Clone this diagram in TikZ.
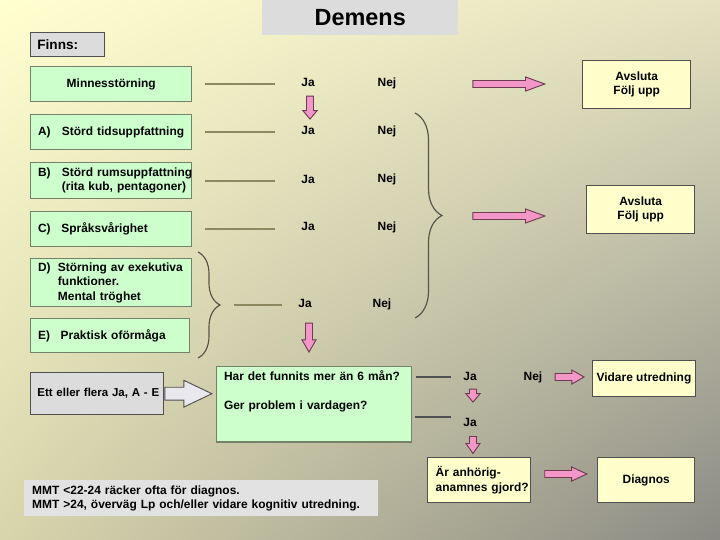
\documentclass[tikz,border=0pt]{standalone}
\usepackage{fontspec}
\setmainfont{Liberation Sans}
\definecolor{bgA}{RGB}{255,255,208}
\definecolor{bgB}{RGB}{228,226,192}
\definecolor{bgC}{RGB}{216,213,172}
\definecolor{bgD}{RGB}{138,138,132}
\definecolor{boxgreen}{RGB}{204,255,204}
\definecolor{greenline}{RGB}{115,130,105}
\definecolor{boxyellow}{RGB}{255,255,204}
\definecolor{darkline}{RGB}{80,80,80}
\definecolor{boxgray}{RGB}{220,220,220}
\definecolor{mmtgray}{RGB}{226,226,226}
\definecolor{linkcol}{RGB}{140,136,95}
\definecolor{arrowpink}{RGB}{243,150,200}
\definecolor{arrowline}{RGB}{110,60,80}
\definecolor{arrowgray}{RGB}{232,232,238}
\definecolor{bracecol}{RGB}{85,85,75}
\usetikzlibrary{shapes.arrows, decorations.pathreplacing, shadings, positioning}

\begin{document}
\begin{tikzpicture}[x=0.03cm, y=-0.03cm,
  font=\fontsize{10.2}{12.3}\selectfont\bfseries,
  greenbox/.style={draw=greenline, fill=boxgreen, line width=1.2pt,
    anchor=north west, inner xsep=0.22cm, minimum width=4.83cm,
    text width=4.39cm, align=left},
  yellowbox/.style={draw=darkline, fill=boxyellow, line width=1.2pt,
    anchor=north west, align=center},
  graybox/.style={draw=darkline, fill=boxgray, line width=1.2pt,
    anchor=north west, inner xsep=0.2cm, align=left},
  answer/.style={inner sep=0pt, text height=7.5pt, text depth=2.2pt},
  link/.style={linkcol, line width=1.5pt},
  pinkarr/.style={single arrow, draw=arrowline, fill=arrowpink,
    line width=0.8pt, inner xsep=0pt, inner ysep=2.6pt,
    single arrow head extend=3pt, single arrow tip angle=40},
  grayarr/.style={single arrow, draw=darkline, fill=arrowgray,
    line width=0.8pt, inner xsep=0pt, inner ysep=5.1pt,
    single arrow head extend=5.9pt, single arrow tip angle=51},
  curly/.style={bracecol, line width=1pt, decorate}]

  % Background
  \shade[upper left=bgA, upper right=bgB, lower left=bgC, lower right=bgD]
    (0,0) rectangle (720,540);

  % Title
  \node[fill=boxgray, anchor=north west, minimum width=5.88cm,
    minimum height=1.05cm, font=\fontsize{20}{24}\selectfont\bfseries]
    (title) at (262,0) {Demens};

  \node[graybox, minimum width=2.22cm, minimum height=0.72cm,
    text width=1.82cm, font=\fontsize{11.6}{13}\selectfont\bfseries]
    (finns) at (30,32) {Finns:};

  % Symptom boxes
  \node[greenbox, minimum height=1.05cm, align=center] (minn) at (30,66)
    {Minnesst\"orning};
  \node[greenbox, minimum height=1.05cm] (stA) at (30,114)
    {\mbox{A)\hspace{0.95em}St\"ord tidsuppfattning}};
  \node[greenbox, minimum height=1.08cm] (stB) at (30,162)
    {\mbox{B)\hspace{0.95em}St\"ord rumsuppfattning}\\\mbox{\hspace{2em}(rita kub, pentagoner)}};
  \node[greenbox, minimum height=1.05cm] (stC) at (30,211)
    {\mbox{C)\hspace{0.9em}Spr\aa ksv\aa righet}};
  \node[greenbox, minimum height=1.44cm] (stD) at (30,258)
    {\mbox{D)\hspace{0.6em}St\"orning av exekutiva}\\\mbox{\hspace{1.67em}funktioner.}\\\mbox{\hspace{1.67em}Mental tr\"oghet}};
  \node[greenbox, minimum width=4.77cm, text width=4.33cm,
    minimum height=1.02cm] (stE) at (30,318)
    {\mbox{E)\hspace{0.9em}Praktisk of\"orm\aa ga}};

  % Answers
  \node[answer] (ja0) at (308,83) {Ja};
  \node[answer] (nej0) at (387,83) {Nej};
  \node[answer] (ja1) at (308,131) {Ja};
  \node[answer] (nej1) at (387,131) {Nej};
  \node[answer] (ja2) at (308,180) {Ja};
  \node[answer] (nej2) at (387,179) {Nej};
  \node[answer] (ja3) at (308,227) {Ja};
  \node[answer] (nej3) at (387,227) {Nej};
  \node[answer] (ja4) at (305,304) {Ja};
  \node[answer] (nej4) at (382,304) {Nej};

  \foreach \b/\j in {minn/ja0, stA/ja1, stB/ja2, stC/ja3}
    \draw[link, shorten <=0.39cm, shorten >=0.78cm] (\b.east) -- (\b.east -| \j.west);

  % Braces
  \draw[curly, decoration={brace, amplitude=0.81cm}] (415,113) -- (415,318);
  \draw[curly, decoration={brace, amplitude=0.66cm}] (198,252) -- (198,358);
  \coordinate (deTip) at (220,305);
  \draw[link, shorten <=0.42cm, shorten >=0.48cm] (deTip) -- (deTip -| ja4.west);

  % Follow-up boxes
  \node[yellowbox, minimum width=3.24cm, minimum height=1.44cm] (avsA)
    at (582,60) {Avsluta\\F\"olj upp};
  \node[yellowbox, minimum width=3.24cm, minimum height=1.44cm] (avsB)
    at (586,185) {Avsluta\\F\"olj upp};

  \node[pinkarr, minimum height=2.16cm] (goA) at (504,84) {};
  \node[pinkarr, minimum height=2.16cm] (goB) at (504,216) {};
  \node[pinkarr, rotate=-90, minimum height=0.69cm,
    single arrow tip angle=80] (downA) at (310,105.5) {};
  \node[pinkarr, rotate=-90, minimum height=0.87cm,
    single arrow tip angle=60] (downB) at (309,334.5) {};

  % Lower part
  \node[graybox, minimum width=3.99cm, minimum height=1.26cm,
    text width=3.59cm, font=\fontsize{9.8}{12}\selectfont\bfseries]
    (ett) at (30,372) {\mbox{Ett eller flera Ja, A - E}};
  \node[greenbox, minimum width=5.85cm, text width=5.41cm,
    minimum height=2.04cm] (har) at (216,366)
    {Har det funnits mer \"an 6 m\aa n?\\[12.3pt]Ger problem i vardagen?\\[12.3pt]\mbox{}};
  \node[grayarr, anchor=tail, minimum height=1.41cm] (toHar) at (ett.east) {};

  \node[answer] (ja5) at (470,377) {Ja};
  \node[answer] (nej5) at (533,377) {Nej};
  \node[answer] (ja6) at (470,423) {Ja};
  \coordinate (harB) at (411,417);
  \draw[darkline, line width=1pt, shorten <=0.12cm, shorten >=0.37cm]
    (har.east |- ja5) -- (ja5.west);
  \draw[darkline, line width=1pt, shorten <=0.12cm, shorten >=0.37cm]
    (harB) -- (harB -| ja6.west);

  \node[yellowbox, minimum width=3.06cm, minimum height=1.08cm] (vid)
    at (592,360) {Vidare utredning};
  \node[yellowbox, minimum width=3.09cm, minimum height=1.35cm,
    inner xsep=0.24cm, text width=2.61cm, align=left] (anh) at (427,457)
    {\mbox{\"Ar anh\"orig-}\\\mbox{anamnes gjord?}};
  \node[yellowbox, minimum width=2.91cm, minimum height=1.35cm] (diag)
    at (597,457) {Diagnos};

  \node[pinkarr, minimum height=0.87cm, single arrow tip angle=60]
    (goC) at (566.5,377) {};
  \node[pinkarr, minimum height=1.26cm, single arrow tip angle=50]
    (goD) at (562,474) {};
  \node[pinkarr, rotate=-90, minimum height=0.39cm,
    single arrow tip angle=80] (downC) at (473,393.5) {};
  \node[pinkarr, rotate=-90, minimum height=0.51cm,
    single arrow tip angle=70] (downD) at (473,442.5) {};

  % Note
  \node[fill=mmtgray, anchor=north west, minimum width=10.62cm,
    minimum height=1.08cm, inner xsep=0.24cm, text width=10.14cm,
    align=left] (mmt) at (24,480)
    {MMT <22-24 r\"acker ofta f\"or diagnos.\\MMT >24, \"overv\"ag Lp och/eller vidare kognitiv utredning.};

\end{tikzpicture}
\end{document}
